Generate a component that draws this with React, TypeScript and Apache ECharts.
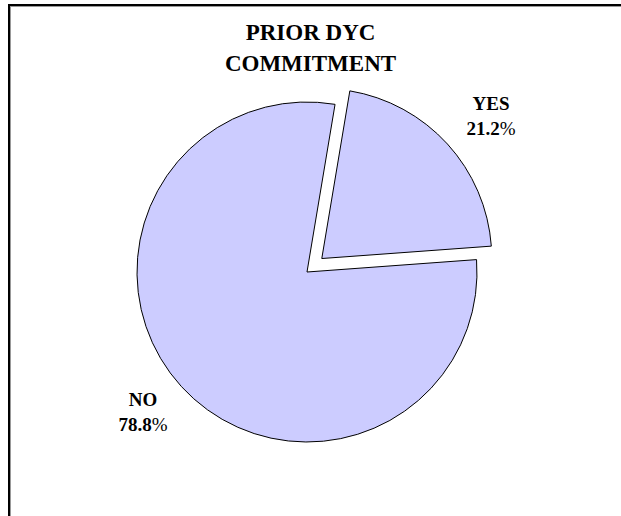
import React, { useEffect, useRef } from "react";
import * as echarts from "echarts";

const categories = ["YES", "NO"];
const values = [21.2, 78.8];
const titleLines = ["PRIOR DYC", "COMMITMENT"];

export default function App() {
  const ref = useRef<HTMLDivElement>(null);
  useEffect(() => {
    document.body.style.margin = "0";
    const chart = echarts.init(ref.current!, null, { renderer: "svg" });
    const labelPos = [
      { x: 491, y: 116 },
      { x: 143, y: 412 },
    ];
    const total = values.reduce((a, b) => a + b, 0);
    const rich = {
      b: {
        fontFamily: "Liberation Serif",
        fontWeight: "bold",
        fontSize: 19,
        lineHeight: 25,
        fill: "#000",
        color: "#000",
      },
      p: {
        fontFamily: "Liberation Serif",
        fontWeight: "normal",
        fontSize: 19,
        lineHeight: 25,
        fill: "#000",
        color: "#000",
      },
    };
    const labelTexts = categories.map((c, i) => ({
      type: "text",
      x: labelPos[i].x,
      y: labelPos[i].y,
      style: {
        text: `{b|${c}}\n{b|${((values[i] / total) * 100).toFixed(1)}}{p|%}`,
        rich,
        align: "center",
        verticalAlign: "middle",
        textAlign: "center",
        textVerticalAlign: "middle",
      },
    }));
    chart.setOption({
      animation: false,
      backgroundColor: "#ffffff",
      title: {
        text: titleLines.join("\n"),
        left: "center",
        top: 12,
        textStyle: {
          fontFamily: "Liberation Serif",
          fontWeight: "bold",
          fontSize: 23,
          lineHeight: 31,
          color: "#000",
        },
      },
      graphic: [
        { type: "line", shape: { x1: 8, y1: 5, x2: 621, y2: 5 }, style: { stroke: "#000", lineWidth: 2 } },
        { type: "line", shape: { x1: 10, y1: 6.5, x2: 621, y2: 6.5 }, style: { stroke: "#999", lineWidth: 1 } },
        { type: "line", shape: { x1: 9, y1: 4, x2: 9, y2: 516 }, style: { stroke: "#000", lineWidth: 2 } },
        { type: "line", shape: { x1: 10.5, y1: 6, x2: 10.5, y2: 516 }, style: { stroke: "#999", lineWidth: 1 } },
        ...labelTexts,
      ],
      series: [
        {
          type: "pie",
          center: [307, 272],
          radius: 170,
          startAngle: 80.5,
          clockwise: true,
          selectedMode: "single",
          selectedOffset: 20,
          percentPrecision: 1,
          emphasis: { disabled: true },
          itemStyle: { color: "#CCCCFF", borderColor: "#000", borderWidth: 1 },
          labelLine: { show: false },
          label: { show: false },
          data: categories.map((c, i) => ({ name: c, value: values[i], selected: i === 0 })),
        },
      ],
    });
    return () => chart.dispose();
  }, []);
  return <div ref={ref} style={{ width: 621, height: 516 }} />;
}
